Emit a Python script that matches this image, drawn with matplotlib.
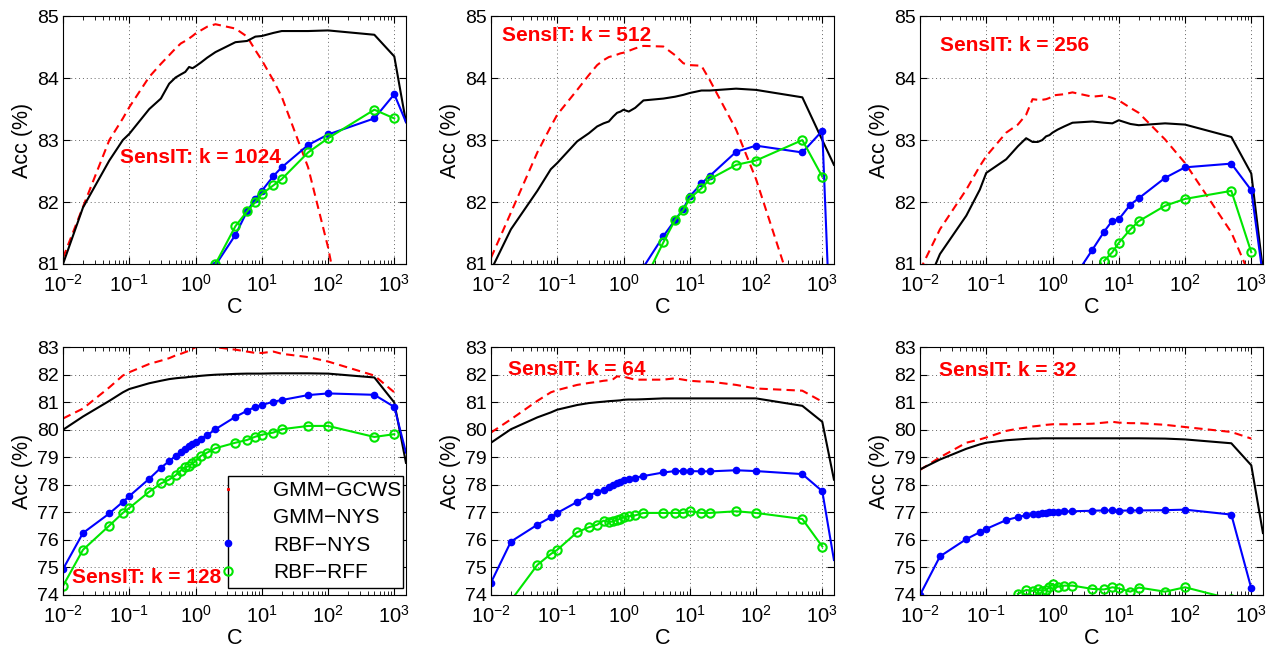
import numpy as np
import matplotlib.pyplot as plt
from matplotlib.lines import Line2D
from matplotlib.patches import Rectangle
from matplotlib.ticker import FixedLocator, LogLocator, NullFormatter

plt.rcParams['font.family'] = ['Liberation Sans', 'DejaVu Sans']
plt.rcParams['mathtext.fontset'] = 'custom'
plt.rcParams['mathtext.rm'] = 'Liberation Sans'
plt.rcParams['mathtext.it'] = 'Liberation Sans:italic'
plt.rcParams['mathtext.bf'] = 'Liberation Sans:bold'

# C grid (x axis)
C = [0.01, 0.02, 0.05, 0.08, 0.1, 0.2, 0.3, 0.4, 0.5, 0.6, 0.7, 0.8, 0.9, 1,
     1.2, 1.5, 2, 4, 6, 8, 10, 15, 20, 50, 100, 500, 1000, 1500]
C_red = C[:-1]
C_rff = C[:-1]
C_hi = [2, 4, 6, 8, 10, 15, 20, 50, 100, 500, 1000, 1500]

# k = 1024
gcws_1024 = [81.1, 81.92, 83.0, 83.35, 83.53, 84.02, 84.23, 84.37, 84.48, 84.56, 84.6, 84.64, 84.68, 84.72,
             84.77, 84.83, 84.87, 84.8, 84.67, 84.45, 84.29, 83.96, 83.7, 82.56, 81.27, 77.5, 76.0]
nys_1024 = [81.0, 81.91, 82.67, 83.0, 83.10, 83.5, 83.67, 83.91, 84.01, 84.06, 84.1, 84.18, 84.16, 84.19,
            84.25, 84.33, 84.42, 84.58, 84.6, 84.67, 84.68, 84.73, 84.76, 84.76, 84.77, 84.7, 84.35, 83.29]
rbf_1024 = [80.98, 81.47, 81.85, 82.05, 82.18, 82.42, 82.56, 82.92, 83.09, 83.35, 83.74, 83.29]
rff_1024 = [81.0, 81.61, 81.85, 82.0, 82.13, 82.27, 82.37, 82.8, 83.03, 83.49, 83.35]

# k = 512
gcws_512 = [81.1, 81.83, 82.8, 83.22, 83.41, 83.81, 84.05, 84.21, 84.29, 84.34, 84.36, 84.38, 84.4, 84.41,
            84.44, 84.48, 84.52, 84.51, 84.37, 84.24, 84.21, 84.2, 83.97, 83.17, 82.37, 80.07, 78.5]
nys_512 = [80.9, 81.56, 82.18, 82.53, 82.63, 82.98, 83.11, 83.22, 83.27, 83.30, 83.38, 83.44, 83.46, 83.49,
           83.46, 83.52, 83.64, 83.67, 83.70, 83.73, 83.76, 83.8, 83.8, 83.83, 83.81, 83.69, 83.0, 82.6]
rbf_512 = [80.95, 81.45, 81.71, 81.89, 82.09, 82.3, 82.42, 82.81, 82.91, 82.80, 83.15, 78.4]
rff_512 = [80.7, 81.35, 81.71, 81.87, 82.06, 82.22, 82.37, 82.6, 82.67, 83.0, 82.41]

# k = 256
gcws_256 = [80.9, 81.56, 82.2, 82.58, 82.74, 83.12, 83.25, 83.41, 83.66, 83.65, 83.65, 83.66, 83.68, 83.72,
            83.73, 83.74, 83.77, 83.7, 83.72, 83.68, 83.64, 83.52, 83.44, 83.01, 82.63, 81.51, 80.76]
nys_256 = [80.4, 81.16, 81.78, 82.2, 82.47, 82.69, 82.9, 83.03, 82.97, 82.97, 83.0, 83.06, 83.08, 83.12,
           83.17, 83.22, 83.28, 83.3, 83.28, 83.27, 83.32, 83.26, 83.24, 83.27, 83.25, 83.05, 82.46, 80.9]
rbf_256 = [80.74, 81.23, 81.52, 81.7, 81.72, 81.96, 82.06, 82.39, 82.56, 82.62, 82.19, 80.8]
C_rff_256 = [6, 8, 10, 15, 20, 50, 100, 500, 1000]
rff_256 = [81.05, 81.19, 81.34, 81.56, 81.69, 81.94, 82.05, 82.18, 81.19]

# k = 128
gcws_128 = [80.41, 80.77, 81.54, 81.97, 82.09, 82.39, 82.51, 82.6, 82.7, 82.76, 82.82, 82.87, 82.94, 83.0,
            83.02, 83.02, 83.0, 82.91, 82.84, 82.79, 82.79, 82.84, 82.76, 82.64, 82.48, 81.97, 81.36]
nys_128 = [80.0, 80.48, 81.05, 81.36, 81.48, 81.69, 81.78, 81.84, 81.87, 81.89, 81.9, 81.92, 81.93, 81.94,
           81.96, 81.98, 82.0, 82.03, 82.04, 82.04, 82.04, 82.05, 82.05, 82.05, 82.04, 81.9, 80.99, 78.8]
rbf_128 = [74.94, 76.25, 76.96, 77.38, 77.59, 78.22, 78.62, 78.86, 79.05, 79.2, 79.31, 79.41, 79.5, 79.57,
           79.68, 79.8, 80.02, 80.47, 80.69, 80.83, 80.9, 81.02, 81.08, 81.26, 81.32, 81.27, 80.83, 79.17]
rff_128 = [74.33, 75.64, 76.52, 76.98, 77.16, 77.75, 78.05, 78.19, 78.35, 78.52, 78.64, 78.68, 78.78, 78.86,
           79.05, 79.17, 79.33, 79.53, 79.63, 79.75, 79.82, 79.9, 80.02, 80.14, 80.14, 79.74, 79.84]

# k = 64
gcws_64 = [79.9, 80.38, 81.05, 81.36, 81.44, 81.63, 81.7, 81.74, 81.78, 81.8, 81.84, 81.94, 81.93, 81.93,
           81.88, 81.82, 81.82, 81.82, 81.87, 81.82, 81.78, 81.75, 81.75, 81.63, 81.5, 81.42, 81.02]
nys_64 = [79.53, 80.02, 80.45, 80.63, 80.73, 80.9, 80.97, 81.0, 81.02, 81.04, 81.05, 81.06, 81.07, 81.09,
          81.1, 81.1, 81.11, 81.14, 81.14, 81.14, 81.14, 81.14, 81.14, 81.14, 81.14, 80.87, 80.29, 78.19]
rbf_64 = [74.45, 75.94, 76.55, 76.82, 76.98, 77.38, 77.61, 77.74, 77.83, 77.93, 78.01, 78.07, 78.12, 78.17,
          78.22, 78.26, 78.32, 78.45, 78.5, 78.5, 78.5, 78.49, 78.49, 78.53, 78.5, 78.39, 77.77, 75.27]
rff_64 = [72.5, 73.8, 75.09, 75.49, 75.64, 76.28, 76.46, 76.55, 76.7, 76.65, 76.67, 76.73, 76.77, 76.82,
          76.86, 76.89, 76.98, 76.98, 76.98, 76.98, 77.04, 76.98, 76.98, 77.04, 76.98, 76.76, 75.76]

# k = 32
gcws_32 = [78.54, 79.0, 79.53, 79.65, 79.72, 79.96, 80.04, 80.08, 80.12, 80.14, 80.16, 80.18, 80.19, 80.2,
           80.2, 80.2, 80.2, 80.22, 80.26, 80.29, 80.26, 80.24, 80.24, 80.18, 80.1, 79.92, 79.68]
nys_32 = [78.56, 78.92, 79.31, 79.47, 79.53, 79.62, 79.65, 79.67, 79.68, 79.68, 79.69, 79.69, 79.69, 79.69,
          79.69, 79.69, 79.69, 79.69, 79.69, 79.69, 79.69, 79.69, 79.69, 79.68, 79.65, 79.51, 78.71, 76.25]
rbf_32 = [74.0, 75.4, 76.03, 76.28, 76.4, 76.72, 76.83, 76.9, 76.93, 76.95, 76.98, 76.99, 77.0, 77.01,
          77.02, 77.04, 77.04, 77.06, 77.07, 77.07, 77.06, 77.07, 77.07, 77.08, 77.1, 76.92, 74.24]
C_rff_32 = [0.3, 0.4, 0.5, 0.6, 0.7, 0.8, 0.9, 1, 1.2, 1.5, 2, 4, 6, 8, 10, 15, 20, 50, 100, 500, 1000]
rff_32 = [74.04, 74.18, 74.15, 74.2, 74.15, 74.18, 74.28, 74.4, 74.3, 74.34, 74.34, 74.22, 74.2, 74.28,
          74.24, 74.12, 74.27, 74.12, 74.28, 73.85, 72.5]

panels = [
    ('SensIT: k = 1024', (81, 85), C, gcws_1024, nys_1024, C_hi, rbf_1024, C_hi[:-1], rff_1024, (0.166, 0.431)),
    ('SensIT: k = 512', (81, 85), C, gcws_512, nys_512, C_hi, rbf_512, C_hi[:-1], rff_512, (0.032, 0.923)),
    ('SensIT: k = 256', (81, 85), C, gcws_256, nys_256, C_hi, rbf_256, C_rff_256, rff_256, (0.058, 0.883)),
    ('SensIT: k = 128', (74, 83), C, gcws_128, nys_128, C, rbf_128, C_rff, rff_128, (0.026, 0.069)),
    ('SensIT: k = 64', (74, 83), C, gcws_64, nys_64, C, rbf_64, C_rff, rff_64, (0.05, 0.911)),
    ('SensIT: k = 32', (74, 83), C, gcws_32, nys_32, C_red, rbf_32, C_rff_32, rff_32, (0.056, 0.907)),
]

GREEN = '#00e600'

fig = plt.figure(figsize=(12.73, 6.47), dpi=100)
lefts = [0.0495, 0.3857, 0.7227]
bottoms = [0.592, 0.0804]
w, h = 0.2694, 0.383

for i, (title, ylim, cx, gcws, nys, crbf, rbf, crff, rff, tpos) in enumerate(panels):
    ax = fig.add_axes([lefts[i % 3], bottoms[i // 3], w, h])
    ax.set_xscale('log')
    ax.plot(C_red, gcws, color='red', lw=1.5, linestyle=(0, (4, 2.5)))
    ax.plot(cx, nys, color='black', lw=1.5)
    mk = slice(0, len(crbf) - 1) if crbf[-1] == 1500 else None
    ax.plot(crbf, rbf, color='blue', lw=1.5, marker='o', markersize=4.5, markevery=mk)
    ax.plot(crff, rff, color=GREEN, lw=1.5, marker='o', markersize=6,
            markerfacecolor='none', markeredgewidth=1.5)
    ax.set_xlim(0.01, 1500)
    ax.set_ylim(*ylim)
    ax.set_yticks(range(ylim[0], ylim[1] + 1))
    ax.xaxis.set_major_locator(FixedLocator([1e-2, 1e-1, 1e0, 1e1, 1e2, 1e3]))
    ax.xaxis.set_minor_locator(LogLocator(base=10, subs=np.arange(2, 10), numticks=20))
    ax.xaxis.set_minor_formatter(NullFormatter())
    ax.grid(True, which='major', color='0.4', linestyle=(0, (1, 3)), linewidth=0.7)
    ax.tick_params(which='both', direction='in', top=True, right=True)
    ax.tick_params(which='major', length=5)
    ax.tick_params(axis='x', which='major', pad=7.5, labelsize=14.5)
    ax.tick_params(axis='y', which='major', pad=3, labelsize=14)
    ax.tick_params(which='minor', length=3)
    ax.set_xlabel('C', fontsize=15.5, labelpad=0.5)
    ax.set_ylabel('Acc (%)', fontsize=15.5, labelpad=3)
    ax.text(tpos[0], tpos[1], title, transform=ax.transAxes, color='red', fontsize=15,
            fontweight='bold', va='center', ha='left')
    if i == 3:
        handles = [Line2D([], [], color='red', marker='s', markersize=1.2, linestyle='none'),
                   Line2D([], [], color='black', linestyle='none'),
                   Line2D([], [], color='blue', marker='o', markersize=4.5, linestyle='none'),
                   Line2D([], [], color=GREEN, marker='o', markersize=6, markerfacecolor='none',
                          markeredgewidth=1.5, linestyle='none')]
        labels = ['GMM\u2212GCWS', 'GMM\u2212NYS', 'RBF\u2212NYS', 'RBF\u2212RFF']
        ax.add_patch(Rectangle((0.481, 0.028), 0.51, 0.452, transform=ax.transAxes,
                               facecolor='white', edgecolor='black', lw=1, zorder=4))
        leg = ax.legend(handles, labels, loc='center left', bbox_to_anchor=(0.481, 0.256),
                        frameon=False, fontsize=15, handlelength=0, handletextpad=2.15,
                        borderpad=0, borderaxespad=0, labelspacing=0.4)
        leg.set_zorder(5)

fig.savefig('out.png', dpi=100)
